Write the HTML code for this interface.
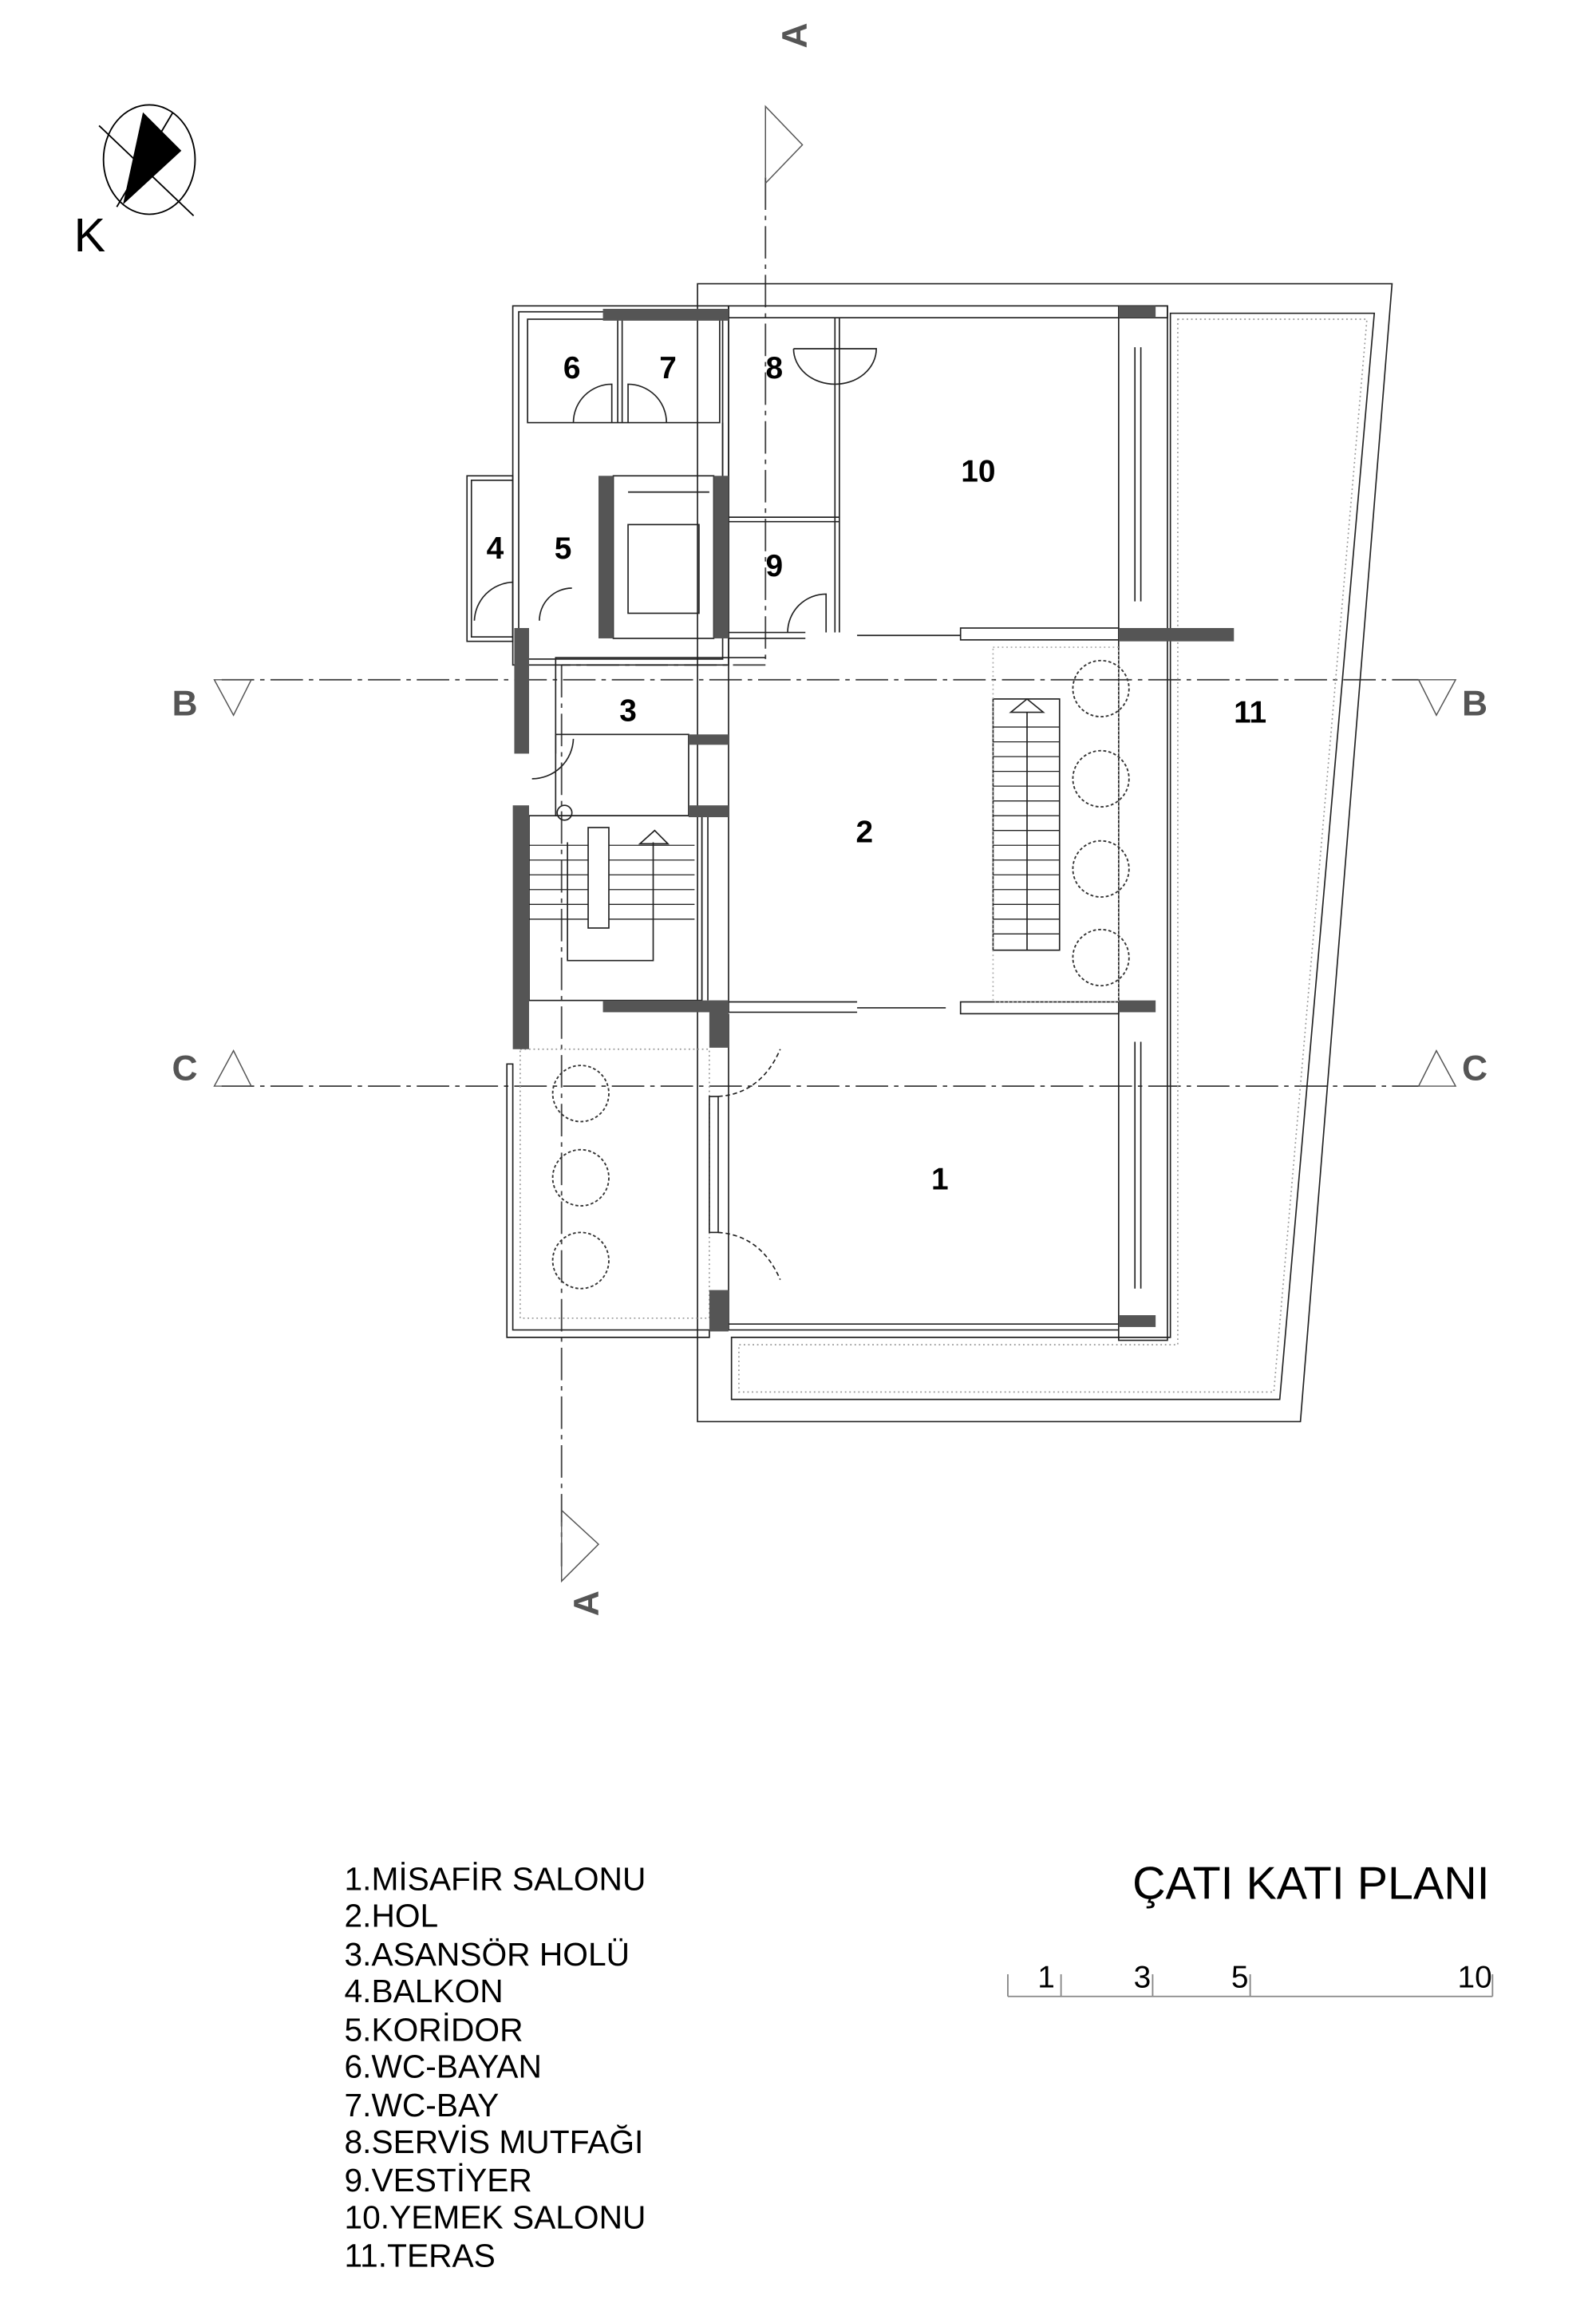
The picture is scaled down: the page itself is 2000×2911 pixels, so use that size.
<!DOCTYPE html>
<html><head><meta charset="utf-8"><style>
html,body{margin:0;padding:0;background:#fff}
svg{display:block}
.b{font-family:"Liberation Sans",sans-serif;font-weight:bold;font-size:21px;fill:#000;text-anchor:middle}
.lg{font-family:"Liberation Sans Narrow","Liberation Sans",sans-serif;font-size:22px;fill:#000}
.sec{font-family:"Liberation Sans",sans-serif;font-weight:bold;font-size:24px;fill:#555;text-anchor:middle}
</style></head><body>
<svg width="2000" height="2911" viewBox="0 0 1080 1572" xmlns="http://www.w3.org/2000/svg">
<g fill="none" stroke="#000" stroke-width="1">
<ellipse cx="101" cy="108" rx="31" ry="37"/>
<polygon points="97,77 122,102 84,137" fill="#000"/>
<line x1="67" y1="85" x2="131" y2="146"/>
<line x1="117" y1="76" x2="79" y2="140"/>
</g>
<text x="50" y="170" style="font-family:'Liberation Sans',sans-serif;font-size:32px">K</text>

<g fill="none" stroke="#444" stroke-width="1" stroke-dasharray="22,4,3,4">
<line x1="518" y1="120" x2="518" y2="450"/>
<line x1="518" y1="450" x2="380" y2="450"/>
<line x1="380" y1="450" x2="380" y2="1060"/>
<line x1="150" y1="460" x2="960" y2="460"/>
<line x1="150" y1="735" x2="960" y2="735"/>
</g>
<g fill="none" stroke="#555" stroke-width="0.8">
<polyline points="518,120 518,72 543,98 518,124"/>
<polyline points="380,1030 380,1070 405,1045 380,1022"/>
<polyline points="170,460 145,460 158,484 170,460"/>
<polyline points="960,460 985,460 972,484 960,460"/>
<polyline points="170,735 145,735 158,711 170,735"/>
<polyline points="960,735 985,735 972,711 960,735"/>
</g>
<text class="sec" transform="translate(546,24) rotate(-90)">A</text>
<text class="sec" transform="translate(405,1085) rotate(-90)">A</text>
<text class="sec" x="125" y="484">B</text>
<text class="sec" x="998" y="484">B</text>
<text class="sec" x="125" y="731">C</text>
<text class="sec" x="998" y="731">C</text>

<g fill="none" stroke="#222" stroke-width="0.9">
<polygon points="472,192 942,192 880,962 472,962"/>
<polygon points="792,212 930,212 866,947 495,947 495,905 792,905"/>
<polygon points="797,216 925,216 862,942 500,942 500,910 797,910" stroke="#999" stroke-dasharray="1,2"/>
<rect x="347" y="207" width="146" height="243"/>
<rect x="351" y="211" width="138" height="235"/>
<rect x="493" y="207" width="297" height="8"/>
<rect x="357" y="216" width="130" height="70"/>
<line x1="418" y1="216" x2="418" y2="286"/>
<line x1="421" y1="216" x2="421" y2="286"/>
<line x1="493" y1="207" x2="493" y2="685"/>
<line x1="489" y1="286" x2="489" y2="322"/>
<path d="M388,286 A26,26 0 0 1 414,260 L414,286"/>
<path d="M425,286 L425,260 A26,26 0 0 1 451,286"/>
<line x1="568" y1="215" x2="568" y2="428"/>
<line x1="565" y1="215" x2="565" y2="428"/>
<path d="M537,236 L593,236 A28,24 0 0 1 537,236"/>
<line x1="493" y1="350" x2="568" y2="350"/>
<line x1="493" y1="353" x2="568" y2="353"/>
<path d="M533,428 A26,26 0 0 1 559,402 L559,428"/>
<line x1="493" y1="428" x2="545" y2="428"/>
<line x1="493" y1="432" x2="545" y2="432"/>
<rect x="757" y="207" width="33" height="700"/>
<line x1="768" y1="235" x2="768" y2="407"/>
<line x1="772" y1="235" x2="772" y2="407"/>
<line x1="768" y1="705" x2="768" y2="872"/>
<line x1="772" y1="705" x2="772" y2="872"/>
<rect x="650" y="425" width="107" height="8"/>
<line x1="580" y1="430" x2="650" y2="430"/>
<rect x="650" y="678" width="107" height="8"/>
<line x1="493" y1="678" x2="580" y2="678"/>
<line x1="493" y1="685" x2="580" y2="685"/>
<line x1="580" y1="682" x2="640" y2="682"/>
<rect x="316" y="322" width="31" height="112"/>
<rect x="319" y="325" width="28" height="106"/>
<path d="M321,420 A27,27 0 0 1 347,394"/>
<path d="M365,420 A22,22 0 0 1 387,398"/>
<rect x="415" y="322" width="68" height="110"/>
<rect x="425" y="355" width="48" height="60"/>
<line x1="425" y1="333" x2="480" y2="333"/>
<polyline points="376,510 376,445 518,445"/>
<rect x="376" y="497" width="90" height="55"/>
<path d="M360,527 A28,28 0 0 0 388,500"/>
<rect x="358" y="552" width="117" height="125"/>
<line x1="475" y1="552" x2="475" y2="677"/>
<line x1="479" y1="552" x2="479" y2="677"/>
<rect x="398" y="560" width="14" height="68"/>
<polyline points="384,570 384,650 442,650 442,570"/>
<path d="M433,571 L443,562 L452,571 Z"/>
<circle cx="382" cy="550" r="5"/>
<rect x="672" y="473" width="45" height="170"/>
<line x1="695" y1="482" x2="695" y2="643"/>
<path d="M684,482 L695,473 L706,482 Z"/>
<rect x="672" y="438" width="85" height="240" stroke="#aaa" stroke-dasharray="1,2"/>
<polygon points="343,720 347,720 347,900 480,900 480,905 343,905" />
<rect x="352" y="710" width="128" height="182" stroke="#999" stroke-dasharray="1,2"/>
<rect x="480" y="742" width="6" height="92"/>
<path d="M486,742 Q515,740 528,710" stroke-dasharray="3,2"/>
<path d="M486,834 Q515,836 528,866" stroke-dasharray="3,2"/>
<line x1="493" y1="900" x2="757" y2="900"/>
<line x1="493" y1="896" x2="757" y2="896"/>
<line x1="493" y1="686" x2="493" y2="900"/>
</g>
<!-- stair treads -->
<g stroke="#222" stroke-width="0.7">
<line x1="672" y1="492" x2="717" y2="492"/><line x1="672" y1="502" x2="717" y2="502"/>
<line x1="672" y1="512" x2="717" y2="512"/><line x1="672" y1="522" x2="717" y2="522"/>
<line x1="672" y1="532" x2="717" y2="532"/><line x1="672" y1="542" x2="717" y2="542"/>
<line x1="672" y1="552" x2="717" y2="552"/><line x1="672" y1="562" x2="717" y2="562"/>
<line x1="672" y1="572" x2="717" y2="572"/><line x1="672" y1="582" x2="717" y2="582"/>
<line x1="672" y1="592" x2="717" y2="592"/><line x1="672" y1="602" x2="717" y2="602"/>
<line x1="672" y1="612" x2="717" y2="612"/><line x1="672" y1="622" x2="717" y2="622"/>
<line x1="672" y1="632" x2="717" y2="632"/>
<line x1="358" y1="572" x2="398" y2="572"/><line x1="358" y1="582" x2="398" y2="582"/>
<line x1="358" y1="592" x2="398" y2="592"/><line x1="358" y1="602" x2="398" y2="602"/>
<line x1="358" y1="612" x2="398" y2="612"/><line x1="358" y1="622" x2="398" y2="622"/>
<line x1="412" y1="572" x2="470" y2="572"/><line x1="412" y1="582" x2="470" y2="582"/>
<line x1="412" y1="592" x2="470" y2="592"/><line x1="412" y1="602" x2="470" y2="602"/>
<line x1="412" y1="612" x2="470" y2="612"/><line x1="412" y1="622" x2="470" y2="622"/>
</g>
<g fill="#555">
<rect x="408" y="209" width="85" height="8"/>
<rect x="405" y="322" width="10" height="110"/>
<rect x="483" y="322" width="10" height="110"/>
<rect x="348" y="425" width="10" height="85"/>
<rect x="347" y="545" width="11" height="165"/>
<rect x="408" y="677" width="85" height="8"/>
<rect x="480" y="677" width="13" height="32"/>
<rect x="466" y="497" width="27" height="7"/>
<rect x="466" y="545" width="27" height="8"/>
<rect x="480" y="873" width="13" height="28"/>
<rect x="757" y="207" width="25" height="8"/>
<rect x="757" y="425" width="78" height="9"/>
<rect x="757" y="677" width="25" height="8"/>
<rect x="757" y="890" width="25" height="8"/>
</g>
<g fill="none" stroke="#333" stroke-width="1" stroke-dasharray="2,1.5">
<circle cx="745" cy="466" r="19"/><circle cx="745" cy="527" r="19"/><circle cx="745" cy="588" r="19"/><circle cx="745" cy="648" r="19"/>
<circle cx="393" cy="740" r="19"/><circle cx="393" cy="797" r="19"/><circle cx="393" cy="853" r="19"/>
</g>
<text class="b" x="387" y="256">6</text>
<text class="b" x="452" y="256">7</text>
<text class="b" x="524" y="256">8</text>
<text class="b" x="662" y="326">10</text>
<text class="b" x="335" y="378">4</text>
<text class="b" x="381" y="378">5</text>
<text class="b" x="524" y="390">9</text>
<text class="b" x="425" y="488">3</text>
<text class="b" x="585" y="570">2</text>
<text class="b" x="846" y="489">11</text>
<text class="b" x="636" y="805">1</text>
<g class="lg">
<text x="233" y="1279">1.MİSAFİR SALONU</text>
<text x="233" y="1304">2.HOL</text>
<text x="233" y="1330">3.ASANSÖR HOLÜ</text>
<text x="233" y="1355">4.BALKON</text>
<text x="233" y="1381">5.KORİDOR</text>
<text x="233" y="1406">6.WC-BAYAN</text>
<text x="233" y="1432">7.WC-BAY</text>
<text x="233" y="1457">8.SERVİS MUTFAĞI</text>
<text x="233" y="1483">9.VESTİYER</text>
<text x="233" y="1508">10.YEMEK SALONU</text>
<text x="233" y="1534">11.TERAS</text>
</g>
<text x="1008" y="1285" text-anchor="end" style="font-family:'Liberation Sans Narrow','Liberation Sans',sans-serif;font-size:31px">ÇATI KATI PLANI</text>
<g stroke="#888" stroke-width="1">
<line x1="682" y1="1351" x2="1010" y2="1351"/>
<line x1="682" y1="1336" x2="682" y2="1351"/>
<line x1="718" y1="1336" x2="718" y2="1351"/>
<line x1="780" y1="1336" x2="780" y2="1351"/>
<line x1="846" y1="1336" x2="846" y2="1351"/>
<line x1="1010" y1="1336" x2="1010" y2="1351"/>
</g>
<g style="font-family:'Liberation Sans Narrow','Liberation Sans',sans-serif;font-size:21px" text-anchor="middle">
<text x="708" y="1345">1</text><text x="773" y="1345">3</text><text x="839" y="1345">5</text><text x="998" y="1345">10</text>
</g>
</svg>
</body></html>
